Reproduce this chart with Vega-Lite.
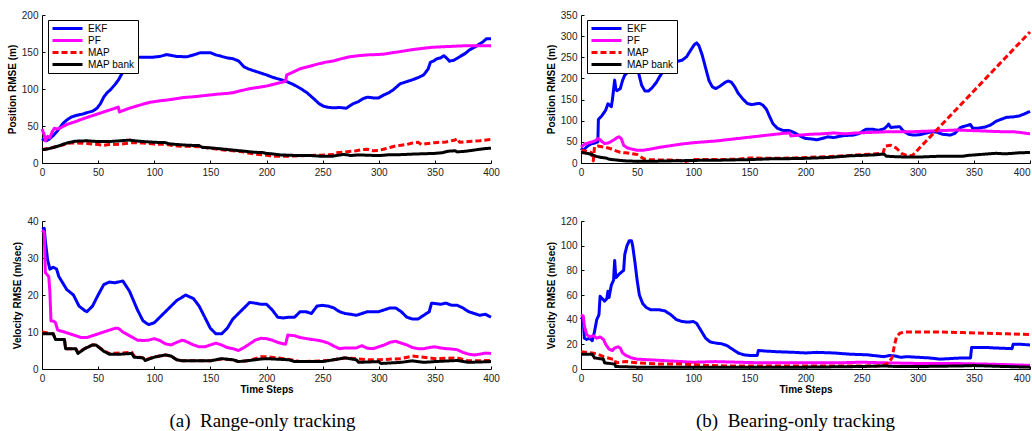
{
"$schema": "https://vega.github.io/schema/vega-lite/v6.json",
"padding": {"left": 7, "top": 10, "right": 0, "bottom": 0},
"background": "white",
"config": {
  "view": {"stroke": null},
  "font": "Liberation Sans",
  "axis": {"grid": false, "domainColor": "black", "tickColor": "black", "labelColor": "#222", "labelFont": "Liberation Sans", "labelFontSize": 10, "titleFont": "Liberation Sans", "titleFontSize": 10, "titleFontWeight": "bold", "titleColor": "black", "tickSize": -3, "labelPadding": 7, "titlePadding": 4, "domainWidth": 1, "labelFlush": false},
  "legend": {"orient": "none", "legendX": 6, "legendY": 5, "title": null, "strokeColor": "black", "fillColor": "white", "padding": 3, "symbolType": "stroke", "symbolSize": 900, "symbolOffset": 0, "clipHeight": 11, "symbolStrokeWidth": 1.5, "labelFontSize": 10, "labelFont": "Liberation Sans", "labelColor": "black", "rowPadding": 1, "labelOffset": 4}
},
"datasets": {
"p1": [
{"t":0,"v":33,"s":"EKF"},{"t":2,"v":31,"s":"EKF"},{"t":4,"v":30,"s":"EKF"},{"t":7,"v":33,"s":"EKF"},{"t":10,"v":37,"s":"EKF"},{"t":13,"v":42,"s":"EKF"},{"t":16,"v":48,"s":"EKF"},{"t":19,"v":54,"s":"EKF"},{"t":22,"v":58,"s":"EKF"},{"t":26,"v":62,"s":"EKF"},{"t":31,"v":64.5,"s":"EKF"},{"t":36,"v":66,"s":"EKF"},{"t":40,"v":68,"s":"EKF"},{"t":45,"v":70,"s":"EKF"},{"t":49,"v":74,"s":"EKF"},{"t":52,"v":80,"s":"EKF"},{"t":55,"v":89,"s":"EKF"},{"t":58,"v":95,"s":"EKF"},{"t":61,"v":99,"s":"EKF"},{"t":65,"v":106,"s":"EKF"},{"t":68,"v":112,"s":"EKF"},{"t":72,"v":123,"s":"EKF"},{"t":75,"v":132,"s":"EKF"},{"t":78,"v":139,"s":"EKF"},{"t":81,"v":142.5,"s":"EKF"},{"t":90,"v":143,"s":"EKF"},{"t":99,"v":143,"s":"EKF"},{"t":105,"v":144,"s":"EKF"},{"t":111,"v":146.5,"s":"EKF"},{"t":120,"v":144,"s":"EKF"},{"t":129,"v":143.5,"s":"EKF"},{"t":135,"v":146,"s":"EKF"},{"t":141,"v":149,"s":"EKF"},{"t":150,"v":149,"s":"EKF"},{"t":155,"v":146,"s":"EKF"},{"t":159,"v":144.5,"s":"EKF"},{"t":165,"v":142,"s":"EKF"},{"t":170,"v":141,"s":"EKF"},{"t":175,"v":138,"s":"EKF"},{"t":180,"v":130,"s":"EKF"},{"t":184,"v":127,"s":"EKF"},{"t":190,"v":124,"s":"EKF"},{"t":194,"v":122,"s":"EKF"},{"t":200,"v":119,"s":"EKF"},{"t":206,"v":115.5,"s":"EKF"},{"t":212,"v":113,"s":"EKF"},{"t":218,"v":110,"s":"EKF"},{"t":224,"v":106,"s":"EKF"},{"t":230,"v":101,"s":"EKF"},{"t":236,"v":95,"s":"EKF"},{"t":242,"v":87,"s":"EKF"},{"t":247,"v":80,"s":"EKF"},{"t":251,"v":76.5,"s":"EKF"},{"t":256,"v":75,"s":"EKF"},{"t":260,"v":74.5,"s":"EKF"},{"t":265,"v":75,"s":"EKF"},{"t":271,"v":74,"s":"EKF"},{"t":274,"v":77,"s":"EKF"},{"t":277,"v":80,"s":"EKF"},{"t":282,"v":83,"s":"EKF"},{"t":286,"v":87,"s":"EKF"},{"t":290,"v":89,"s":"EKF"},{"t":295,"v":88,"s":"EKF"},{"t":300,"v":88,"s":"EKF"},{"t":304,"v":91.5,"s":"EKF"},{"t":309,"v":95,"s":"EKF"},{"t":313,"v":99,"s":"EKF"},{"t":316,"v":103,"s":"EKF"},{"t":319,"v":107,"s":"EKF"},{"t":325,"v":110,"s":"EKF"},{"t":331,"v":113,"s":"EKF"},{"t":336,"v":116,"s":"EKF"},{"t":340,"v":119,"s":"EKF"},{"t":344,"v":127,"s":"EKF"},{"t":346,"v":136,"s":"EKF"},{"t":349,"v":138,"s":"EKF"},{"t":352,"v":141,"s":"EKF"},{"t":355,"v":142,"s":"EKF"},{"t":358,"v":145,"s":"EKF"},{"t":361,"v":141,"s":"EKF"},{"t":363,"v":137.5,"s":"EKF"},{"t":367,"v":139,"s":"EKF"},{"t":372,"v":143.5,"s":"EKF"},{"t":377,"v":148,"s":"EKF"},{"t":381,"v":153,"s":"EKF"},{"t":386,"v":157,"s":"EKF"},{"t":390,"v":161,"s":"EKF"},{"t":393,"v":164,"s":"EKF"},{"t":396,"v":168,"s":"EKF"},{"t":400,"v":168,"s":"EKF"},
{"t":0,"v":46,"s":"PF"},{"t":2,"v":38,"s":"PF"},{"t":3,"v":30,"s":"PF"},{"t":5,"v":36,"s":"PF"},{"t":7,"v":34,"s":"PF"},{"t":9,"v":42,"s":"PF"},{"t":11,"v":47,"s":"PF"},{"t":13,"v":46,"s":"PF"},{"t":16,"v":47,"s":"PF"},{"t":22,"v":52,"s":"PF"},{"t":30,"v":56,"s":"PF"},{"t":37,"v":60,"s":"PF"},{"t":45,"v":64,"s":"PF"},{"t":52,"v":67.5,"s":"PF"},{"t":60,"v":71.5,"s":"PF"},{"t":68,"v":75.5,"s":"PF"},{"t":69,"v":69,"s":"PF"},{"t":75,"v":72.5,"s":"PF"},{"t":81,"v":75.5,"s":"PF"},{"t":90,"v":79.5,"s":"PF"},{"t":96,"v":82,"s":"PF"},{"t":105,"v":84,"s":"PF"},{"t":111,"v":85,"s":"PF"},{"t":120,"v":87,"s":"PF"},{"t":126,"v":88.5,"s":"PF"},{"t":135,"v":89.5,"s":"PF"},{"t":141,"v":90.5,"s":"PF"},{"t":150,"v":92,"s":"PF"},{"t":156,"v":93,"s":"PF"},{"t":165,"v":94,"s":"PF"},{"t":170,"v":95,"s":"PF"},{"t":178,"v":98,"s":"PF"},{"t":185,"v":100.5,"s":"PF"},{"t":192,"v":102,"s":"PF"},{"t":200,"v":104,"s":"PF"},{"t":208,"v":107,"s":"PF"},{"t":215,"v":109.5,"s":"PF"},{"t":217,"v":111,"s":"PF"},{"t":218,"v":119,"s":"PF"},{"t":224,"v":123,"s":"PF"},{"t":230,"v":127.5,"s":"PF"},{"t":238,"v":130.5,"s":"PF"},{"t":245,"v":133.5,"s":"PF"},{"t":252,"v":136,"s":"PF"},{"t":260,"v":138,"s":"PF"},{"t":267,"v":141,"s":"PF"},{"t":274,"v":143.5,"s":"PF"},{"t":282,"v":145,"s":"PF"},{"t":289,"v":146,"s":"PF"},{"t":297,"v":146.5,"s":"PF"},{"t":304,"v":147,"s":"PF"},{"t":312,"v":149,"s":"PF"},{"t":319,"v":150.5,"s":"PF"},{"t":327,"v":152.5,"s":"PF"},{"t":334,"v":154,"s":"PF"},{"t":342,"v":155.5,"s":"PF"},{"t":349,"v":156.5,"s":"PF"},{"t":356,"v":157,"s":"PF"},{"t":363,"v":157.5,"s":"PF"},{"t":370,"v":158,"s":"PF"},{"t":378,"v":158.5,"s":"PF"},{"t":390,"v":158.5,"s":"PF"},{"t":400,"v":158.5,"s":"PF"},
{"t":0,"v":18,"s":"MAP"},{"t":10,"v":21,"s":"MAP"},{"t":20,"v":25,"s":"MAP"},{"t":25,"v":27,"s":"MAP"},{"t":30,"v":27,"s":"MAP"},{"t":40,"v":26.5,"s":"MAP"},{"t":50,"v":25,"s":"MAP"},{"t":55,"v":24,"s":"MAP"},{"t":60,"v":25,"s":"MAP"},{"t":70,"v":25.5,"s":"MAP"},{"t":80,"v":27.5,"s":"MAP"},{"t":90,"v":27,"s":"MAP"},{"t":100,"v":25.5,"s":"MAP"},{"t":110,"v":25.5,"s":"MAP"},{"t":115,"v":24,"s":"MAP"},{"t":120,"v":23,"s":"MAP"},{"t":130,"v":22.5,"s":"MAP"},{"t":140,"v":22,"s":"MAP"},{"t":150,"v":20,"s":"MAP"},{"t":160,"v":18,"s":"MAP"},{"t":170,"v":16.5,"s":"MAP"},{"t":180,"v":15,"s":"MAP"},{"t":185,"v":13,"s":"MAP"},{"t":190,"v":12,"s":"MAP"},{"t":200,"v":10.5,"s":"MAP"},{"t":205,"v":9,"s":"MAP"},{"t":215,"v":9,"s":"MAP"},{"t":225,"v":9.5,"s":"MAP"},{"t":235,"v":10,"s":"MAP"},{"t":245,"v":10.5,"s":"MAP"},{"t":255,"v":11,"s":"MAP"},{"t":260,"v":11.5,"s":"MAP"},{"t":262,"v":14,"s":"MAP"},{"t":270,"v":15,"s":"MAP"},{"t":280,"v":16.5,"s":"MAP"},{"t":285,"v":18,"s":"MAP"},{"t":290,"v":18.5,"s":"MAP"},{"t":295,"v":16.5,"s":"MAP"},{"t":300,"v":17,"s":"MAP"},{"t":305,"v":19,"s":"MAP"},{"t":310,"v":21,"s":"MAP"},{"t":315,"v":23,"s":"MAP"},{"t":320,"v":24,"s":"MAP"},{"t":325,"v":25,"s":"MAP"},{"t":330,"v":27,"s":"MAP"},{"t":335,"v":28,"s":"MAP"},{"t":338,"v":25,"s":"MAP"},{"t":342,"v":26,"s":"MAP"},{"t":350,"v":27.5,"s":"MAP"},{"t":360,"v":28.5,"s":"MAP"},{"t":368,"v":31,"s":"MAP"},{"t":370,"v":33,"s":"MAP"},{"t":372,"v":28,"s":"MAP"},{"t":380,"v":29,"s":"MAP"},{"t":390,"v":30,"s":"MAP"},{"t":400,"v":32,"s":"MAP"},
{"t":0,"v":18,"s":"MAP bank"},{"t":5,"v":19,"s":"MAP bank"},{"t":10,"v":21,"s":"MAP bank"},{"t":15,"v":23,"s":"MAP bank"},{"t":20,"v":26,"s":"MAP bank"},{"t":25,"v":28,"s":"MAP bank"},{"t":30,"v":29.5,"s":"MAP bank"},{"t":40,"v":30,"s":"MAP bank"},{"t":45,"v":29.5,"s":"MAP bank"},{"t":50,"v":29,"s":"MAP bank"},{"t":60,"v":29,"s":"MAP bank"},{"t":70,"v":30,"s":"MAP bank"},{"t":78,"v":31,"s":"MAP bank"},{"t":82,"v":30,"s":"MAP bank"},{"t":90,"v":29,"s":"MAP bank"},{"t":100,"v":28,"s":"MAP bank"},{"t":110,"v":27.5,"s":"MAP bank"},{"t":113,"v":26,"s":"MAP bank"},{"t":120,"v":25,"s":"MAP bank"},{"t":130,"v":24,"s":"MAP bank"},{"t":140,"v":23.5,"s":"MAP bank"},{"t":143,"v":21,"s":"MAP bank"},{"t":150,"v":20.5,"s":"MAP bank"},{"t":160,"v":19,"s":"MAP bank"},{"t":170,"v":17.5,"s":"MAP bank"},{"t":180,"v":16,"s":"MAP bank"},{"t":186,"v":15,"s":"MAP bank"},{"t":190,"v":14.5,"s":"MAP bank"},{"t":197,"v":14,"s":"MAP bank"},{"t":200,"v":13,"s":"MAP bank"},{"t":207,"v":12,"s":"MAP bank"},{"t":212,"v":11,"s":"MAP bank"},{"t":220,"v":10.5,"s":"MAP bank"},{"t":230,"v":10,"s":"MAP bank"},{"t":240,"v":10,"s":"MAP bank"},{"t":250,"v":9,"s":"MAP bank"},{"t":258,"v":9,"s":"MAP bank"},{"t":262,"v":10,"s":"MAP bank"},{"t":268,"v":11.5,"s":"MAP bank"},{"t":272,"v":11,"s":"MAP bank"},{"t":275,"v":10,"s":"MAP bank"},{"t":282,"v":11,"s":"MAP bank"},{"t":290,"v":10.5,"s":"MAP bank"},{"t":300,"v":10,"s":"MAP bank"},{"t":308,"v":11,"s":"MAP bank"},{"t":315,"v":11,"s":"MAP bank"},{"t":322,"v":11.5,"s":"MAP bank"},{"t":330,"v":12,"s":"MAP bank"},{"t":340,"v":12.5,"s":"MAP bank"},{"t":350,"v":13,"s":"MAP bank"},{"t":357,"v":14,"s":"MAP bank"},{"t":362,"v":16,"s":"MAP bank"},{"t":368,"v":16.5,"s":"MAP bank"},{"t":370,"v":15,"s":"MAP bank"},{"t":378,"v":16,"s":"MAP bank"},{"t":385,"v":17.5,"s":"MAP bank"},{"t":390,"v":18.5,"s":"MAP bank"},{"t":395,"v":19.5,"s":"MAP bank"},{"t":400,"v":20,"s":"MAP bank"}
],
"p2": [
{"t":0,"v":35,"s":"EKF"},{"t":2,"v":30,"s":"EKF"},{"t":5,"v":38,"s":"EKF"},{"t":8,"v":44,"s":"EKF"},{"t":10,"v":46,"s":"EKF"},{"t":13,"v":48,"s":"EKF"},{"t":15,"v":50,"s":"EKF"},{"t":15.5,"v":103,"s":"EKF"},{"t":18,"v":110,"s":"EKF"},{"t":20,"v":117,"s":"EKF"},{"t":22,"v":125,"s":"EKF"},{"t":24,"v":140,"s":"EKF"},{"t":25,"v":138,"s":"EKF"},{"t":27,"v":133,"s":"EKF"},{"t":28,"v":150,"s":"EKF"},{"t":30,"v":196,"s":"EKF"},{"t":31,"v":175,"s":"EKF"},{"t":32,"v":171,"s":"EKF"},{"t":35,"v":176,"s":"EKF"},{"t":37,"v":195,"s":"EKF"},{"t":39,"v":208,"s":"EKF"},{"t":42,"v":215,"s":"EKF"},{"t":44,"v":220,"s":"EKF"},{"t":47,"v":231,"s":"EKF"},{"t":49,"v":235,"s":"EKF"},{"t":51,"v":216,"s":"EKF"},{"t":54,"v":184,"s":"EKF"},{"t":57,"v":170,"s":"EKF"},{"t":60,"v":170,"s":"EKF"},{"t":63,"v":177,"s":"EKF"},{"t":67,"v":190,"s":"EKF"},{"t":70,"v":204,"s":"EKF"},{"t":74,"v":220,"s":"EKF"},{"t":79,"v":235,"s":"EKF"},{"t":85,"v":240,"s":"EKF"},{"t":90,"v":243,"s":"EKF"},{"t":94,"v":251,"s":"EKF"},{"t":98,"v":268,"s":"EKF"},{"t":101,"v":280,"s":"EKF"},{"t":103,"v":284,"s":"EKF"},{"t":105,"v":278,"s":"EKF"},{"t":108,"v":255,"s":"EKF"},{"t":111,"v":225,"s":"EKF"},{"t":114,"v":195,"s":"EKF"},{"t":117,"v":180,"s":"EKF"},{"t":120,"v":176,"s":"EKF"},{"t":124,"v":182,"s":"EKF"},{"t":128,"v":190,"s":"EKF"},{"t":131,"v":194,"s":"EKF"},{"t":134,"v":191,"s":"EKF"},{"t":137,"v":180,"s":"EKF"},{"t":140,"v":165,"s":"EKF"},{"t":144,"v":152,"s":"EKF"},{"t":148,"v":141,"s":"EKF"},{"t":152,"v":138,"s":"EKF"},{"t":156,"v":140,"s":"EKF"},{"t":159,"v":141,"s":"EKF"},{"t":162,"v":137,"s":"EKF"},{"t":165,"v":128,"s":"EKF"},{"t":168,"v":110,"s":"EKF"},{"t":171,"v":93,"s":"EKF"},{"t":175,"v":82,"s":"EKF"},{"t":180,"v":77,"s":"EKF"},{"t":185,"v":77,"s":"EKF"},{"t":190,"v":72,"s":"EKF"},{"t":195,"v":64,"s":"EKF"},{"t":200,"v":58,"s":"EKF"},{"t":205,"v":57,"s":"EKF"},{"t":210,"v":55,"s":"EKF"},{"t":215,"v":58,"s":"EKF"},{"t":220,"v":62,"s":"EKF"},{"t":225,"v":60,"s":"EKF"},{"t":230,"v":63,"s":"EKF"},{"t":235,"v":65,"s":"EKF"},{"t":243,"v":66,"s":"EKF"},{"t":248,"v":70,"s":"EKF"},{"t":254,"v":80,"s":"EKF"},{"t":260,"v":80,"s":"EKF"},{"t":265,"v":77,"s":"EKF"},{"t":270,"v":81,"s":"EKF"},{"t":273,"v":88,"s":"EKF"},{"t":274,"v":92,"s":"EKF"},{"t":276,"v":84,"s":"EKF"},{"t":280,"v":85,"s":"EKF"},{"t":284,"v":86,"s":"EKF"},{"t":287,"v":76,"s":"EKF"},{"t":292,"v":68,"s":"EKF"},{"t":296,"v":66,"s":"EKF"},{"t":302,"v":67,"s":"EKF"},{"t":308,"v":71,"s":"EKF"},{"t":313,"v":74,"s":"EKF"},{"t":317,"v":73,"s":"EKF"},{"t":322,"v":68,"s":"EKF"},{"t":329,"v":66,"s":"EKF"},{"t":333,"v":70,"s":"EKF"},{"t":338,"v":84,"s":"EKF"},{"t":343,"v":88,"s":"EKF"},{"t":347,"v":91,"s":"EKF"},{"t":349,"v":82,"s":"EKF"},{"t":353,"v":82,"s":"EKF"},{"t":360,"v":85,"s":"EKF"},{"t":365,"v":90,"s":"EKF"},{"t":370,"v":99,"s":"EKF"},{"t":375,"v":104,"s":"EKF"},{"t":379,"v":108,"s":"EKF"},{"t":385,"v":109,"s":"EKF"},{"t":390,"v":111,"s":"EKF"},{"t":395,"v":116,"s":"EKF"},{"t":400,"v":122,"s":"EKF"},
{"t":0,"v":38,"s":"PF"},{"t":3,"v":44,"s":"PF"},{"t":6,"v":47,"s":"PF"},{"t":10,"v":50,"s":"PF"},{"t":13,"v":53,"s":"PF"},{"t":15,"v":58,"s":"PF"},{"t":17,"v":55,"s":"PF"},{"t":19,"v":50,"s":"PF"},{"t":21,"v":46,"s":"PF"},{"t":24,"v":47,"s":"PF"},{"t":27,"v":51,"s":"PF"},{"t":30,"v":56,"s":"PF"},{"t":32,"v":60,"s":"PF"},{"t":34,"v":62,"s":"PF"},{"t":36,"v":57,"s":"PF"},{"t":38,"v":42,"s":"PF"},{"t":41,"v":36,"s":"PF"},{"t":45,"v":33,"s":"PF"},{"t":50,"v":30,"s":"PF"},{"t":55,"v":30,"s":"PF"},{"t":60,"v":32,"s":"PF"},{"t":70,"v":37,"s":"PF"},{"t":80,"v":41,"s":"PF"},{"t":90,"v":45,"s":"PF"},{"t":100,"v":48,"s":"PF"},{"t":110,"v":50,"s":"PF"},{"t":120,"v":52,"s":"PF"},{"t":130,"v":55,"s":"PF"},{"t":140,"v":58,"s":"PF"},{"t":150,"v":61,"s":"PF"},{"t":160,"v":64,"s":"PF"},{"t":170,"v":67,"s":"PF"},{"t":180,"v":70,"s":"PF"},{"t":186,"v":71,"s":"PF"},{"t":187,"v":64,"s":"PF"},{"t":195,"v":66,"s":"PF"},{"t":205,"v":68,"s":"PF"},{"t":215,"v":69,"s":"PF"},{"t":225,"v":71,"s":"PF"},{"t":235,"v":69,"s":"PF"},{"t":245,"v":71,"s":"PF"},{"t":255,"v":72,"s":"PF"},{"t":265,"v":73,"s":"PF"},{"t":275,"v":74,"s":"PF"},{"t":285,"v":74,"s":"PF"},{"t":295,"v":74,"s":"PF"},{"t":305,"v":75,"s":"PF"},{"t":315,"v":76,"s":"PF"},{"t":325,"v":77,"s":"PF"},{"t":335,"v":78,"s":"PF"},{"t":345,"v":77,"s":"PF"},{"t":355,"v":76,"s":"PF"},{"t":365,"v":75,"s":"PF"},{"t":375,"v":74,"s":"PF"},{"t":385,"v":74,"s":"PF"},{"t":392,"v":72,"s":"PF"},{"t":400,"v":69,"s":"PF"},
{"t":0,"v":30,"s":"MAP"},{"t":5,"v":28,"s":"MAP"},{"t":9,"v":25,"s":"MAP"},{"t":11,"v":5,"s":"MAP"},{"t":12,"v":38,"s":"MAP"},{"t":15,"v":40,"s":"MAP"},{"t":20,"v":38,"s":"MAP"},{"t":25,"v":35,"s":"MAP"},{"t":30,"v":30,"s":"MAP"},{"t":35,"v":25,"s":"MAP"},{"t":40,"v":24,"s":"MAP"},{"t":45,"v":22,"s":"MAP"},{"t":50,"v":20,"s":"MAP"},{"t":53,"v":15,"s":"MAP"},{"t":56,"v":10,"s":"MAP"},{"t":60,"v":8,"s":"MAP"},{"t":70,"v":7,"s":"MAP"},{"t":80,"v":7,"s":"MAP"},{"t":88,"v":6,"s":"MAP"},{"t":92,"v":3,"s":"MAP"},{"t":96,"v":5,"s":"MAP"},{"t":100,"v":8,"s":"MAP"},{"t":120,"v":8,"s":"MAP"},{"t":140,"v":9,"s":"MAP"},{"t":150,"v":12,"s":"MAP"},{"t":170,"v":11,"s":"MAP"},{"t":190,"v":12,"s":"MAP"},{"t":200,"v":13,"s":"MAP"},{"t":220,"v":15,"s":"MAP"},{"t":240,"v":18,"s":"MAP"},{"t":260,"v":21,"s":"MAP"},{"t":269,"v":23,"s":"MAP"},{"t":271,"v":40,"s":"MAP"},{"t":276,"v":42,"s":"MAP"},{"t":281,"v":35,"s":"MAP"},{"t":286,"v":22,"s":"MAP"},{"t":290,"v":18,"s":"MAP"},{"t":295,"v":17,"s":"MAP"},{"t":400,"v":310,"s":"MAP"},
{"t":0,"v":25,"s":"MAP bank"},{"t":5,"v":23,"s":"MAP bank"},{"t":10,"v":20,"s":"MAP bank"},{"t":13,"v":16,"s":"MAP bank"},{"t":18,"v":13,"s":"MAP bank"},{"t":22,"v":12,"s":"MAP bank"},{"t":25,"v":9,"s":"MAP bank"},{"t":30,"v":7.5,"s":"MAP bank"},{"t":35,"v":6,"s":"MAP bank"},{"t":40,"v":5,"s":"MAP bank"},{"t":50,"v":4,"s":"MAP bank"},{"t":60,"v":4,"s":"MAP bank"},{"t":70,"v":4.5,"s":"MAP bank"},{"t":80,"v":5,"s":"MAP bank"},{"t":90,"v":5.5,"s":"MAP bank"},{"t":100,"v":6,"s":"MAP bank"},{"t":110,"v":6.5,"s":"MAP bank"},{"t":120,"v":6.5,"s":"MAP bank"},{"t":130,"v":7,"s":"MAP bank"},{"t":140,"v":7.5,"s":"MAP bank"},{"t":150,"v":8,"s":"MAP bank"},{"t":160,"v":9,"s":"MAP bank"},{"t":170,"v":10,"s":"MAP bank"},{"t":180,"v":10,"s":"MAP bank"},{"t":190,"v":10.5,"s":"MAP bank"},{"t":200,"v":11,"s":"MAP bank"},{"t":210,"v":12,"s":"MAP bank"},{"t":220,"v":13,"s":"MAP bank"},{"t":230,"v":15,"s":"MAP bank"},{"t":240,"v":17,"s":"MAP bank"},{"t":250,"v":18,"s":"MAP bank"},{"t":260,"v":19,"s":"MAP bank"},{"t":270,"v":21,"s":"MAP bank"},{"t":272,"v":16,"s":"MAP bank"},{"t":280,"v":15,"s":"MAP bank"},{"t":290,"v":14,"s":"MAP bank"},{"t":300,"v":14,"s":"MAP bank"},{"t":310,"v":15,"s":"MAP bank"},{"t":320,"v":16,"s":"MAP bank"},{"t":340,"v":16,"s":"MAP bank"},{"t":345,"v":18,"s":"MAP bank"},{"t":350,"v":19,"s":"MAP bank"},{"t":360,"v":21,"s":"MAP bank"},{"t":370,"v":23,"s":"MAP bank"},{"t":375,"v":22,"s":"MAP bank"},{"t":380,"v":22,"s":"MAP bank"},{"t":390,"v":24,"s":"MAP bank"},{"t":400,"v":25,"s":"MAP bank"}
],
"p3": [
{"t":0,"v":37.8,"s":"EKF"},{"t":2,"v":38,"s":"EKF"},{"t":3,"v":34.5,"s":"EKF"},{"t":5,"v":29.5,"s":"EKF"},{"t":7,"v":27,"s":"EKF"},{"t":10,"v":27.5,"s":"EKF"},{"t":13,"v":27,"s":"EKF"},{"t":15,"v":25,"s":"EKF"},{"t":18,"v":23.5,"s":"EKF"},{"t":22,"v":21.5,"s":"EKF"},{"t":28,"v":20,"s":"EKF"},{"t":33,"v":17,"s":"EKF"},{"t":38,"v":15.8,"s":"EKF"},{"t":40,"v":15.5,"s":"EKF"},{"t":45,"v":17,"s":"EKF"},{"t":50,"v":20,"s":"EKF"},{"t":55,"v":22.8,"s":"EKF"},{"t":60,"v":23.5,"s":"EKF"},{"t":65,"v":23.3,"s":"EKF"},{"t":72,"v":23.8,"s":"EKF"},{"t":78,"v":21,"s":"EKF"},{"t":85,"v":16,"s":"EKF"},{"t":90,"v":13,"s":"EKF"},{"t":95,"v":12,"s":"EKF"},{"t":100,"v":12.5,"s":"EKF"},{"t":105,"v":14,"s":"EKF"},{"t":110,"v":15.5,"s":"EKF"},{"t":115,"v":17,"s":"EKF"},{"t":120,"v":18.5,"s":"EKF"},{"t":128,"v":20,"s":"EKF"},{"t":135,"v":19,"s":"EKF"},{"t":140,"v":17,"s":"EKF"},{"t":145,"v":14,"s":"EKF"},{"t":150,"v":11,"s":"EKF"},{"t":155,"v":9.5,"s":"EKF"},{"t":160,"v":9.5,"s":"EKF"},{"t":165,"v":11,"s":"EKF"},{"t":170,"v":13.5,"s":"EKF"},{"t":175,"v":15,"s":"EKF"},{"t":180,"v":16.5,"s":"EKF"},{"t":185,"v":18,"s":"EKF"},{"t":190,"v":17.8,"s":"EKF"},{"t":195,"v":17.5,"s":"EKF"},{"t":200,"v":17.5,"s":"EKF"},{"t":205,"v":16,"s":"EKF"},{"t":210,"v":14,"s":"EKF"},{"t":215,"v":13.8,"s":"EKF"},{"t":220,"v":14,"s":"EKF"},{"t":225,"v":14,"s":"EKF"},{"t":230,"v":15.5,"s":"EKF"},{"t":235,"v":15.5,"s":"EKF"},{"t":240,"v":15,"s":"EKF"},{"t":245,"v":17,"s":"EKF"},{"t":250,"v":17.2,"s":"EKF"},{"t":255,"v":17,"s":"EKF"},{"t":260,"v":16.5,"s":"EKF"},{"t":265,"v":15.5,"s":"EKF"},{"t":270,"v":15,"s":"EKF"},{"t":275,"v":14.8,"s":"EKF"},{"t":280,"v":14.5,"s":"EKF"},{"t":285,"v":15,"s":"EKF"},{"t":290,"v":15.5,"s":"EKF"},{"t":295,"v":15.5,"s":"EKF"},{"t":300,"v":15.5,"s":"EKF"},{"t":305,"v":16,"s":"EKF"},{"t":310,"v":16.5,"s":"EKF"},{"t":315,"v":16.5,"s":"EKF"},{"t":320,"v":15.5,"s":"EKF"},{"t":325,"v":14,"s":"EKF"},{"t":330,"v":13.5,"s":"EKF"},{"t":335,"v":13.5,"s":"EKF"},{"t":340,"v":14.5,"s":"EKF"},{"t":345,"v":15.5,"s":"EKF"},{"t":347,"v":17.8,"s":"EKF"},{"t":355,"v":17.5,"s":"EKF"},{"t":360,"v":17.8,"s":"EKF"},{"t":365,"v":17.2,"s":"EKF"},{"t":370,"v":17.2,"s":"EKF"},{"t":375,"v":16.5,"s":"EKF"},{"t":380,"v":15.5,"s":"EKF"},{"t":385,"v":15,"s":"EKF"},{"t":390,"v":14.5,"s":"EKF"},{"t":395,"v":14.8,"s":"EKF"},{"t":400,"v":14,"s":"EKF"},
{"t":0,"v":37.5,"s":"PF"},{"t":2,"v":37,"s":"PF"},{"t":3,"v":26,"s":"PF"},{"t":6,"v":25,"s":"PF"},{"t":7,"v":21,"s":"PF"},{"t":8,"v":13,"s":"PF"},{"t":10,"v":13,"s":"PF"},{"t":12,"v":12.5,"s":"PF"},{"t":14,"v":10.5,"s":"PF"},{"t":20,"v":10,"s":"PF"},{"t":25,"v":9.5,"s":"PF"},{"t":30,"v":9,"s":"PF"},{"t":35,"v":8.5,"s":"PF"},{"t":40,"v":8.5,"s":"PF"},{"t":45,"v":9,"s":"PF"},{"t":50,"v":9.5,"s":"PF"},{"t":55,"v":10,"s":"PF"},{"t":60,"v":10.5,"s":"PF"},{"t":65,"v":11,"s":"PF"},{"t":68,"v":11,"s":"PF"},{"t":72,"v":10,"s":"PF"},{"t":78,"v":9,"s":"PF"},{"t":85,"v":7.8,"s":"PF"},{"t":90,"v":7.7,"s":"PF"},{"t":95,"v":7.8,"s":"PF"},{"t":100,"v":8.2,"s":"PF"},{"t":105,"v":7.7,"s":"PF"},{"t":110,"v":6.8,"s":"PF"},{"t":115,"v":6.5,"s":"PF"},{"t":120,"v":7.2,"s":"PF"},{"t":125,"v":7.8,"s":"PF"},{"t":128,"v":7.5,"s":"PF"},{"t":135,"v":6.5,"s":"PF"},{"t":140,"v":6,"s":"PF"},{"t":145,"v":6,"s":"PF"},{"t":150,"v":6.5,"s":"PF"},{"t":155,"v":7,"s":"PF"},{"t":160,"v":6.5,"s":"PF"},{"t":165,"v":5.8,"s":"PF"},{"t":170,"v":5.5,"s":"PF"},{"t":175,"v":5,"s":"PF"},{"t":180,"v":5.8,"s":"PF"},{"t":185,"v":6.8,"s":"PF"},{"t":190,"v":7.8,"s":"PF"},{"t":195,"v":8.3,"s":"PF"},{"t":200,"v":8.2,"s":"PF"},{"t":205,"v":7.8,"s":"PF"},{"t":210,"v":7.2,"s":"PF"},{"t":215,"v":6.8,"s":"PF"},{"t":217,"v":6.7,"s":"PF"},{"t":219,"v":9.2,"s":"PF"},{"t":225,"v":9,"s":"PF"},{"t":230,"v":8.5,"s":"PF"},{"t":240,"v":8,"s":"PF"},{"t":245,"v":7.8,"s":"PF"},{"t":250,"v":7.5,"s":"PF"},{"t":255,"v":7,"s":"PF"},{"t":260,"v":6.2,"s":"PF"},{"t":265,"v":5.5,"s":"PF"},{"t":270,"v":5.7,"s":"PF"},{"t":280,"v":5.7,"s":"PF"},{"t":285,"v":6.3,"s":"PF"},{"t":290,"v":5.6,"s":"PF"},{"t":295,"v":5.5,"s":"PF"},{"t":300,"v":6,"s":"PF"},{"t":305,"v":6.5,"s":"PF"},{"t":310,"v":7.2,"s":"PF"},{"t":315,"v":7.5,"s":"PF"},{"t":320,"v":7,"s":"PF"},{"t":325,"v":6.5,"s":"PF"},{"t":330,"v":5.8,"s":"PF"},{"t":335,"v":5.5,"s":"PF"},{"t":340,"v":5.5,"s":"PF"},{"t":345,"v":5.8,"s":"PF"},{"t":350,"v":6,"s":"PF"},{"t":355,"v":5.7,"s":"PF"},{"t":360,"v":5.5,"s":"PF"},{"t":365,"v":5.4,"s":"PF"},{"t":370,"v":5.2,"s":"PF"},{"t":375,"v":4.5,"s":"PF"},{"t":380,"v":4,"s":"PF"},{"t":385,"v":3.8,"s":"PF"},{"t":390,"v":4,"s":"PF"},{"t":395,"v":4.3,"s":"PF"},{"t":400,"v":4.2,"s":"PF"},
{"t":0,"v":10,"s":"MAP"},{"t":10,"v":9.5,"s":"MAP"},{"t":12,"v":8,"s":"MAP"},{"t":20,"v":8,"s":"MAP"},{"t":21,"v":5.5,"s":"MAP"},{"t":30,"v":5.5,"s":"MAP"},{"t":32,"v":4.5,"s":"MAP"},{"t":38,"v":5.5,"s":"MAP"},{"t":45,"v":6.5,"s":"MAP"},{"t":48,"v":6.5,"s":"MAP"},{"t":55,"v":5,"s":"MAP"},{"t":60,"v":4.2,"s":"MAP"},{"t":70,"v":4.3,"s":"MAP"},{"t":80,"v":4.5,"s":"MAP"},{"t":82,"v":3.5,"s":"MAP"},{"t":90,"v":3,"s":"MAP"},{"t":92,"v":2.5,"s":"MAP"},{"t":100,"v":3.3,"s":"MAP"},{"t":110,"v":3.8,"s":"MAP"},{"t":115,"v":3.5,"s":"MAP"},{"t":120,"v":2.5,"s":"MAP"},{"t":125,"v":2.2,"s":"MAP"},{"t":150,"v":2.2,"s":"MAP"},{"t":160,"v":2.7,"s":"MAP"},{"t":170,"v":2.5,"s":"MAP"},{"t":175,"v":2,"s":"MAP"},{"t":185,"v":2.3,"s":"MAP"},{"t":195,"v":3.3,"s":"MAP"},{"t":200,"v":3.3,"s":"MAP"},{"t":210,"v":3,"s":"MAP"},{"t":220,"v":2.6,"s":"MAP"},{"t":230,"v":2,"s":"MAP"},{"t":250,"v":2.2,"s":"MAP"},{"t":260,"v":2.5,"s":"MAP"},{"t":270,"v":3,"s":"MAP"},{"t":280,"v":2.8,"s":"MAP"},{"t":290,"v":2.5,"s":"MAP"},{"t":300,"v":2.5,"s":"MAP"},{"t":320,"v":2.8,"s":"MAP"},{"t":330,"v":3.5,"s":"MAP"},{"t":340,"v":3.2,"s":"MAP"},{"t":350,"v":2.8,"s":"MAP"},{"t":370,"v":3,"s":"MAP"},{"t":380,"v":2.2,"s":"MAP"},{"t":400,"v":2.3,"s":"MAP"},
{"t":0,"v":9.5,"s":"MAP bank"},{"t":10,"v":9.5,"s":"MAP bank"},{"t":12,"v":8,"s":"MAP bank"},{"t":20,"v":8,"s":"MAP bank"},{"t":21,"v":5.5,"s":"MAP bank"},{"t":30,"v":5.5,"s":"MAP bank"},{"t":32,"v":4.2,"s":"MAP bank"},{"t":38,"v":5.5,"s":"MAP bank"},{"t":45,"v":6.5,"s":"MAP bank"},{"t":48,"v":6.5,"s":"MAP bank"},{"t":55,"v":4.8,"s":"MAP bank"},{"t":60,"v":4,"s":"MAP bank"},{"t":70,"v":4,"s":"MAP bank"},{"t":80,"v":4.2,"s":"MAP bank"},{"t":82,"v":3.2,"s":"MAP bank"},{"t":90,"v":3,"s":"MAP bank"},{"t":92,"v":2.3,"s":"MAP bank"},{"t":100,"v":3.2,"s":"MAP bank"},{"t":110,"v":3.8,"s":"MAP bank"},{"t":115,"v":3.5,"s":"MAP bank"},{"t":120,"v":2.5,"s":"MAP bank"},{"t":125,"v":2.2,"s":"MAP bank"},{"t":150,"v":2.2,"s":"MAP bank"},{"t":160,"v":2.8,"s":"MAP bank"},{"t":170,"v":2.5,"s":"MAP bank"},{"t":175,"v":2,"s":"MAP bank"},{"t":185,"v":2.3,"s":"MAP bank"},{"t":195,"v":2.7,"s":"MAP bank"},{"t":200,"v":2.8,"s":"MAP bank"},{"t":220,"v":2.5,"s":"MAP bank"},{"t":225,"v":2,"s":"MAP bank"},{"t":250,"v":2,"s":"MAP bank"},{"t":260,"v":2.5,"s":"MAP bank"},{"t":270,"v":3,"s":"MAP bank"},{"t":280,"v":2.5,"s":"MAP bank"},{"t":282,"v":1.8,"s":"MAP bank"},{"t":300,"v":2,"s":"MAP bank"},{"t":302,"v":1.5,"s":"MAP bank"},{"t":320,"v":1.8,"s":"MAP bank"},{"t":330,"v":2.2,"s":"MAP bank"},{"t":340,"v":1.8,"s":"MAP bank"},{"t":350,"v":2,"s":"MAP bank"},{"t":370,"v":2.3,"s":"MAP bank"},{"t":380,"v":1.8,"s":"MAP bank"},{"t":400,"v":2,"s":"MAP bank"}
],
"p4": [
{"t":0,"v":42,"s":"EKF"},{"t":2,"v":40,"s":"EKF"},{"t":3,"v":25,"s":"EKF"},{"t":5,"v":24,"s":"EKF"},{"t":8,"v":25,"s":"EKF"},{"t":10,"v":23,"s":"EKF"},{"t":12,"v":30,"s":"EKF"},{"t":14,"v":40,"s":"EKF"},{"t":16,"v":44,"s":"EKF"},{"t":17,"v":59,"s":"EKF"},{"t":19,"v":57,"s":"EKF"},{"t":21,"v":55,"s":"EKF"},{"t":23,"v":57,"s":"EKF"},{"t":24,"v":63,"s":"EKF"},{"t":25,"v":58,"s":"EKF"},{"t":27,"v":68,"s":"EKF"},{"t":29,"v":72,"s":"EKF"},{"t":30,"v":88,"s":"EKF"},{"t":31,"v":74,"s":"EKF"},{"t":34,"v":77,"s":"EKF"},{"t":38,"v":80,"s":"EKF"},{"t":39,"v":93,"s":"EKF"},{"t":41,"v":100,"s":"EKF"},{"t":43,"v":104,"s":"EKF"},{"t":45,"v":104,"s":"EKF"},{"t":46,"v":100,"s":"EKF"},{"t":48,"v":87,"s":"EKF"},{"t":50,"v":72,"s":"EKF"},{"t":52,"v":60,"s":"EKF"},{"t":55,"v":53,"s":"EKF"},{"t":58,"v":50,"s":"EKF"},{"t":62,"v":48,"s":"EKF"},{"t":70,"v":48,"s":"EKF"},{"t":75,"v":47,"s":"EKF"},{"t":80,"v":44,"s":"EKF"},{"t":85,"v":40,"s":"EKF"},{"t":90,"v":38.5,"s":"EKF"},{"t":95,"v":38,"s":"EKF"},{"t":100,"v":38.5,"s":"EKF"},{"t":103,"v":37,"s":"EKF"},{"t":107,"v":31,"s":"EKF"},{"t":111,"v":25,"s":"EKF"},{"t":115,"v":22,"s":"EKF"},{"t":120,"v":21,"s":"EKF"},{"t":125,"v":20.5,"s":"EKF"},{"t":130,"v":19,"s":"EKF"},{"t":135,"v":16,"s":"EKF"},{"t":140,"v":13,"s":"EKF"},{"t":145,"v":11.5,"s":"EKF"},{"t":150,"v":11,"s":"EKF"},{"t":157,"v":11,"s":"EKF"},{"t":158,"v":15,"s":"EKF"},{"t":165,"v":14.5,"s":"EKF"},{"t":175,"v":14,"s":"EKF"},{"t":190,"v":13.5,"s":"EKF"},{"t":200,"v":13,"s":"EKF"},{"t":210,"v":13.5,"s":"EKF"},{"t":225,"v":13,"s":"EKF"},{"t":240,"v":12,"s":"EKF"},{"t":255,"v":11.5,"s":"EKF"},{"t":265,"v":10.5,"s":"EKF"},{"t":270,"v":10,"s":"EKF"},{"t":275,"v":11,"s":"EKF"},{"t":280,"v":10.5,"s":"EKF"},{"t":285,"v":9.5,"s":"EKF"},{"t":290,"v":10,"s":"EKF"},{"t":300,"v":9.5,"s":"EKF"},{"t":310,"v":9,"s":"EKF"},{"t":320,"v":8,"s":"EKF"},{"t":330,"v":8.5,"s":"EKF"},{"t":340,"v":9,"s":"EKF"},{"t":347,"v":9,"s":"EKF"},{"t":348,"v":17.5,"s":"EKF"},{"t":360,"v":17.5,"s":"EKF"},{"t":370,"v":17,"s":"EKF"},{"t":384,"v":16.5,"s":"EKF"},{"t":385,"v":20,"s":"EKF"},{"t":392,"v":20,"s":"EKF"},{"t":400,"v":19.5,"s":"EKF"},
{"t":0,"v":44,"s":"PF"},{"t":2,"v":43,"s":"PF"},{"t":3,"v":35,"s":"PF"},{"t":5,"v":28,"s":"PF"},{"t":8,"v":26,"s":"PF"},{"t":11,"v":27,"s":"PF"},{"t":14,"v":25,"s":"PF"},{"t":17,"v":26,"s":"PF"},{"t":20,"v":24,"s":"PF"},{"t":22,"v":20,"s":"PF"},{"t":25,"v":16,"s":"PF"},{"t":28,"v":15,"s":"PF"},{"t":30,"v":17,"s":"PF"},{"t":33,"v":18,"s":"PF"},{"t":35,"v":17,"s":"PF"},{"t":37,"v":13,"s":"PF"},{"t":40,"v":11,"s":"PF"},{"t":45,"v":9,"s":"PF"},{"t":50,"v":8,"s":"PF"},{"t":60,"v":7.5,"s":"PF"},{"t":70,"v":7,"s":"PF"},{"t":80,"v":6.5,"s":"PF"},{"t":90,"v":6,"s":"PF"},{"t":100,"v":5.5,"s":"PF"},{"t":120,"v":6,"s":"PF"},{"t":140,"v":5.5,"s":"PF"},{"t":160,"v":5,"s":"PF"},{"t":180,"v":5,"s":"PF"},{"t":200,"v":5,"s":"PF"},{"t":230,"v":5,"s":"PF"},{"t":250,"v":5.5,"s":"PF"},{"t":270,"v":5,"s":"PF"},{"t":300,"v":4.5,"s":"PF"},{"t":330,"v":4.5,"s":"PF"},{"t":360,"v":4,"s":"PF"},{"t":380,"v":3.5,"s":"PF"},{"t":400,"v":3,"s":"PF"},
{"t":0,"v":14,"s":"MAP"},{"t":10,"v":13,"s":"MAP"},{"t":15,"v":12,"s":"MAP"},{"t":20,"v":10,"s":"MAP"},{"t":28,"v":8,"s":"MAP"},{"t":30,"v":8,"s":"MAP"},{"t":31,"v":5,"s":"MAP"},{"t":40,"v":6,"s":"MAP"},{"t":50,"v":5,"s":"MAP"},{"t":60,"v":4.5,"s":"MAP"},{"t":70,"v":4,"s":"MAP"},{"t":90,"v":4,"s":"MAP"},{"t":100,"v":3.5,"s":"MAP"},{"t":110,"v":3,"s":"MAP"},{"t":130,"v":2.5,"s":"MAP"},{"t":200,"v":2.5,"s":"MAP"},{"t":268,"v":2.5,"s":"MAP"},{"t":274,"v":5,"s":"MAP"},{"t":277,"v":9,"s":"MAP"},{"t":279,"v":18,"s":"MAP"},{"t":281,"v":26,"s":"MAP"},{"t":284,"v":29,"s":"MAP"},{"t":288,"v":30,"s":"MAP"},{"t":320,"v":30,"s":"MAP"},{"t":340,"v":29.5,"s":"MAP"},{"t":360,"v":29,"s":"MAP"},{"t":380,"v":28.5,"s":"MAP"},{"t":400,"v":28,"s":"MAP"},
{"t":0,"v":12,"s":"MAP bank"},{"t":10,"v":12,"s":"MAP bank"},{"t":12,"v":9,"s":"MAP bank"},{"t":20,"v":8,"s":"MAP bank"},{"t":21,"v":5,"s":"MAP bank"},{"t":30,"v":4,"s":"MAP bank"},{"t":31,"v":2,"s":"MAP bank"},{"t":50,"v":1.5,"s":"MAP bank"},{"t":100,"v":1.5,"s":"MAP bank"},{"t":150,"v":1.5,"s":"MAP bank"},{"t":200,"v":1.5,"s":"MAP bank"},{"t":250,"v":2,"s":"MAP bank"},{"t":270,"v":2.5,"s":"MAP bank"},{"t":280,"v":2,"s":"MAP bank"},{"t":300,"v":2,"s":"MAP bank"},{"t":340,"v":2.5,"s":"MAP bank"},{"t":350,"v":2.8,"s":"MAP bank"},{"t":370,"v":2.2,"s":"MAP bank"},{"t":400,"v":1.5,"s":"MAP bank"}
]
},
"columns": 2,
"spacing": {"row": 58, "column": 90},
"bounds": "flush",
"resolve": {"scale": {"color": "independent", "strokeDash": "independent", "strokeWidth": "independent"}},
"concat": [
{
 "width": 449, "height": 148,
 "data": {"name": "p1"},
 "mark": {"type": "line", "strokeJoin": "round"},
 "encoding": {
  "x": {"field": "t", "type": "quantitative", "scale": {"domain": [0, 400], "nice": false}, "axis": {"values": [0,50,100,150,200,250,300,350,400], "title": null}},
  "y": {"field": "v", "type": "quantitative", "scale": {"domain": [0, 200], "nice": false}, "axis": {"values": [0,50,100,150,200], "title": "Position RMSE (m)"}},
  "color": {"field": "s", "type": "nominal", "scale": {"domain": ["EKF","PF","MAP","MAP bank"], "range": ["#0000ff","#ff00ff","#ff0000","#000000"]}, "legend": {"orient": "none", "legendX": 6, "legendY": 5, "title": null}},
  "strokeDash": {"field": "s", "type": "nominal", "scale": {"domain": ["EKF","PF","MAP","MAP bank"], "range": [[1,0],[1,0],[6,3],[1,0]]}, "legend": {"orient": "none", "legendX": 6, "legendY": 5, "title": null}},
  "strokeWidth": {"field": "s", "type": "nominal", "scale": {"domain": ["EKF","PF","MAP","MAP bank"], "range": [3,3,2,2]}, "legend": null}
 }
},
{
 "width": 449, "height": 148,
 "data": {"name": "p2"},
 "mark": {"type": "line", "strokeJoin": "round"},
 "encoding": {
  "x": {"field": "t", "type": "quantitative", "scale": {"domain": [0, 400], "nice": false}, "axis": {"values": [0,50,100,150,200,250,300,350,400], "title": null, "labelAlign": {"condition": {"test": "datum.value == 400", "value": "right"}, "value": "center"}}},
  "y": {"field": "v", "type": "quantitative", "scale": {"domain": [0, 350], "nice": false}, "axis": {"values": [0,50,100,150,200,250,300,350], "title": "Position RMSE (m)"}},
  "color": {"field": "s", "type": "nominal", "scale": {"domain": ["EKF","PF","MAP","MAP bank"], "range": ["#0000ff","#ff00ff","#ff0000","#000000"]}, "legend": {"orient": "none", "legendX": 6, "legendY": 5, "title": null}},
  "strokeDash": {"field": "s", "type": "nominal", "scale": {"domain": ["EKF","PF","MAP","MAP bank"], "range": [[1,0],[1,0],[6,3],[1,0]]}, "legend": {"orient": "none", "legendX": 6, "legendY": 5, "title": null}},
  "strokeWidth": {"field": "s", "type": "nominal", "scale": {"domain": ["EKF","PF","MAP","MAP bank"], "range": [3,3,2,2]}, "legend": null}
 }
},
{
 "width": 449, "height": 148,
 "data": {"name": "p3"},
 "title": {"text": "(a)\u00a0 Range-only tracking", "orient": "bottom", "font": "Liberation Serif", "fontSize": 19, "fontWeight": "normal", "color": "black", "offset": 18, "frame": "group", "anchor": "middle", "dx": -4},
 "mark": {"type": "line", "strokeJoin": "round"},
 "encoding": {
  "x": {"field": "t", "type": "quantitative", "scale": {"domain": [0, 400], "nice": false}, "axis": {"values": [0,50,100,150,200,250,300,350,400], "title": "Time Steps", "titlePadding": 1}},
  "y": {"field": "v", "type": "quantitative", "scale": {"domain": [0, 40], "nice": false}, "axis": {"values": [0,10,20,30,40], "title": "Velocity RMSE (m/sec)"}},
  "color": {"field": "s", "type": "nominal", "scale": {"domain": ["EKF","PF","MAP","MAP bank"], "range": ["#0000ff","#ff00ff","#ff0000","#000000"]}, "legend": null},
  "strokeDash": {"field": "s", "type": "nominal", "scale": {"domain": ["EKF","PF","MAP","MAP bank"], "range": [[1,0],[1,0],[6,3],[1,0]]}, "legend": null},
  "strokeWidth": {"field": "s", "type": "nominal", "scale": {"domain": ["EKF","PF","MAP","MAP bank"], "range": [3,3,2,2]}, "legend": null}
 }
},
{
 "width": 449, "height": 148,
 "data": {"name": "p4"},
 "title": {"text": "(b)\u00a0 Bearing-only tracking", "orient": "bottom", "font": "Liberation Serif", "fontSize": 19, "fontWeight": "normal", "color": "black", "offset": 18, "frame": "group", "anchor": "middle", "dx": -10},
 "mark": {"type": "line", "strokeJoin": "round"},
 "encoding": {
  "x": {"field": "t", "type": "quantitative", "scale": {"domain": [0, 400], "nice": false}, "axis": {"values": [0,50,100,150,200,250,300,350,400], "title": "Time Steps", "titlePadding": 1, "labelAlign": {"condition": {"test": "datum.value == 400", "value": "right"}, "value": "center"}}},
  "y": {"field": "v", "type": "quantitative", "scale": {"domain": [0, 120], "nice": false}, "axis": {"values": [0,20,40,60,80,100,120], "title": "Velocity RMSE (m/sec)"}},
  "color": {"field": "s", "type": "nominal", "scale": {"domain": ["EKF","PF","MAP","MAP bank"], "range": ["#0000ff","#ff00ff","#ff0000","#000000"]}, "legend": null},
  "strokeDash": {"field": "s", "type": "nominal", "scale": {"domain": ["EKF","PF","MAP","MAP bank"], "range": [[1,0],[1,0],[6,3],[1,0]]}, "legend": null},
  "strokeWidth": {"field": "s", "type": "nominal", "scale": {"domain": ["EKF","PF","MAP","MAP bank"], "range": [3,3,2,2]}, "legend": null}
 }
}
]
}
